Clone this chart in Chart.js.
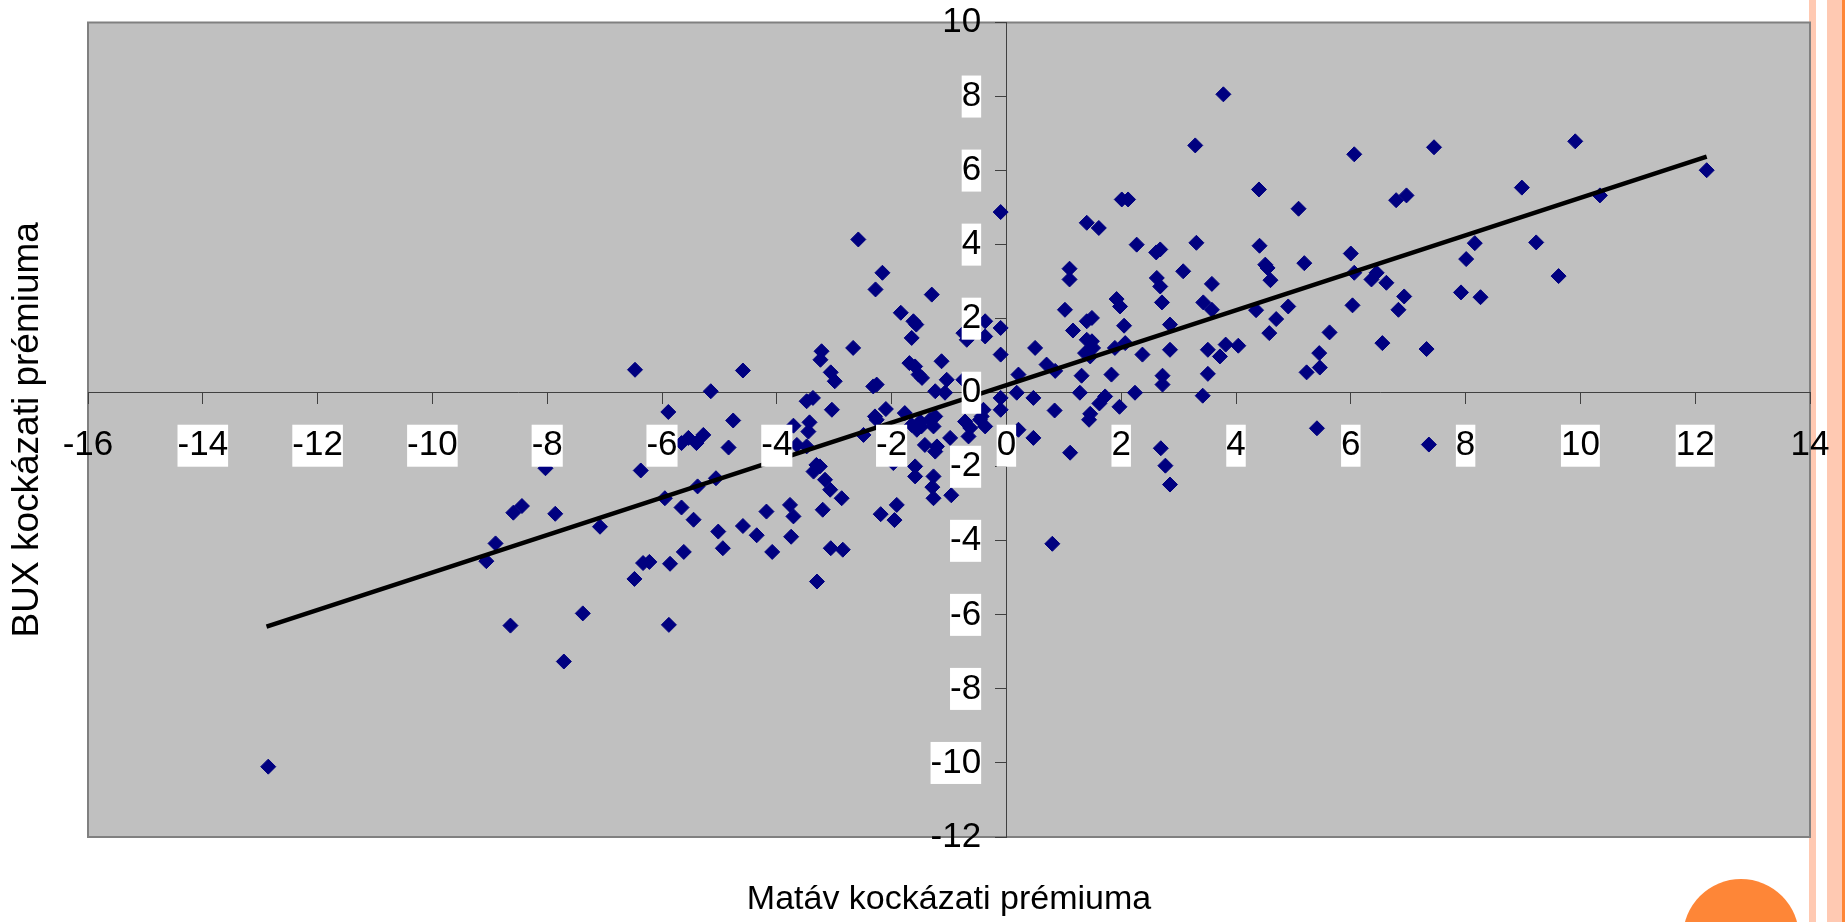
<!DOCTYPE html>
<html>
<head>
<meta charset="utf-8">
<title>Matáv - BUX kockázati prémium</title>
<script src="https://cdn.jsdelivr.net/npm/chart.js@4.4.1/dist/chart.umd.min.js"></script>
<style>
  html, body { margin: 0; padding: 0; background: #fff; }
  #page { position: relative; width: 1845px; height: 922px; overflow: hidden; }
  #wrap { position: absolute; left: 0; top: 0; width: 1845px; height: 922px; z-index: 2; }
  .stripe { position: absolute; top: 0; height: 922px; z-index: 1; }
  #dot { position: absolute; left: 1683px; top: 879px; width: 116px; height: 116px;
         border-radius: 50%; background: #fe8637; z-index: 3; }
</style>
</head>
<body>
<div id="page">
  <div class="stripe" style="left:1809px;width:7px;background:#ffc9b2"></div>
  <div class="stripe" style="left:1827px;width:15px;background:#ffc9b2"></div>
  <div class="stripe" style="left:1842px;width:3px;background:#fe8637"></div>
  <div id="wrap"><canvas id="chart"></canvas></div>
  <div id="dot"></div>
</div>
<script>
// Matáv risk premium (x) and BUX risk premium (y)
const matavX = [
  -12.86, -9.06, -8.90, -8.64, -8.59, -8.44, -8.03, -7.86, -7.71, -7.38,
  -7.08, -6.47, -6.48, -6.37, -6.33, -6.22, -5.95, -5.89, -5.88, -5.86,
  -5.66, -5.62, -5.45, -5.66, -5.54, -5.40, -5.28, -5.38, -5.15, -5.06,
  -5.02, -4.94, -4.84, -4.76, -4.59, -4.59, -4.35, -4.18, -4.08, -3.77,
  -3.75, -3.71, -3.71, -3.65, -3.48, -3.48, -3.37, -3.43, -3.45, -3.22,
  -3.24, -3.06, -2.99, -3.04, -3.31, -3.36, -3.25, -3.16, -3.07, -2.87,
  -3.20, -3.06, -2.85, -3.30, -2.67, -2.58, -2.16, -2.28, -2.32, -2.26,
  -2.29, -2.26, -2.49, -2.10, -1.30, -1.84, -1.62, -1.57, -1.65, -1.69,
  -1.59, -1.53, -1.47, -1.13, -1.04, -0.75, -0.69, -0.75, -0.37, -0.37,
  -0.10, -0.10, -0.10, 0.50, 0.70, -1.24, -1.07, -0.10, 0.21, 0.18,
  0.47, -1.77, -1.65, -1.56, -1.50, -1.48, -1.33, -1.24, -1.27, -0.72,
  -0.63, -0.98, -0.66, -0.40, -0.43, -0.46, -0.37, -0.10, 0.21, 0.47,
  -1.42, -1.21, -1.24, -1.97, -1.59, -1.59, -1.27, -2.19, -1.91, -1.95,
  -1.29, -1.27, -0.96,
  0.80, 0.85, 0.84, 1.11, 1.44, 1.46, 1.62, 1.97, 2.69, 2.77,
  2.85, 5.41, 7.36, 3.42, 1.28, 1.72, 2.24, 1.31, 1.83, 2.72,
  2.72, 3.51, 1.10, 1.10, 3.08, 2.62, 2.68, 3.58, 1.92, 1.98,
  2.71, 1.02, 3.43, 3.58, 1.40, 1.49, 1.16, 2.05, 2.85, 1.40,
  1.49, 1.51, 1.37, 1.46, 1.89, 2.07, 2.37, 2.85, 3.51, 3.72,
  3.82, 4.04, 3.78, 3.29, 4.40, 2.01, 2.12, 1.40, 1.61, 2.27,
  2.61, 2.68, 3.31, 4.41, 6.06, 7.45, 5.09, 6.79, 6.97, 6.00,
  4.51, 4.55, 4.60, 5.19, 6.06, 6.36, 6.45, 6.62, 6.93, 6.83,
  7.92, 8.01, 4.35, 4.70, 4.91, 6.03, 4.58, 5.63, 5.45, 5.46,
  5.23, 6.55, 7.32, 8.16, 8.26, 8.98, 9.23, 9.62, 9.91, 10.34,
  12.20
];
const buxY = [
  -10.10, -4.55, -4.07, -6.29, -3.24, -3.06, -2.04, -3.27, -7.26, -5.96,
  -3.62, 0.62, -5.03, -2.10, -4.60, -4.57, -2.85, -0.52, -6.27, -4.62,
  -3.10, -4.30, -3.43, -1.36, -1.22, -1.36, -1.14, -2.53, 0.04, -2.31,
  -3.75, -4.20, -1.48, -0.75, 0.60, -3.60, -3.85, -3.21, -4.30, -3.03,
  -3.89, -3.34, -0.89, -1.41, -1.45, -0.23, -0.14, -0.80, -1.05, 1.12,
  0.89, 0.55, 0.31, -0.46, -1.95, -2.13, -1.99, -2.35, -2.62, -2.85,
  -3.16, -4.20, -4.24, -5.10, 1.21, 4.14, 3.24, 2.79, 0.17, 0.22,
  -0.64, -0.73, -1.14, -0.44, 2.65, 2.16, 1.93, 1.84, 1.48, 0.80,
  0.71, 0.49, 0.40, 0.85, 0.35, 0.35, 1.43, 1.61, 1.93, 1.52,
  1.75, 1.03, 4.88, 1.21, 0.76, 0.04, 0.00, -0.14, 0.49, 0.00,
  -0.14, -0.55, -0.87, -1.00, -0.78, -0.91, -0.73, -0.64, -0.91, -0.78,
  -0.95, -1.22, -1.18, -0.46, -0.64, -0.73, -0.91, -0.46, -1.00, -1.22,
  -1.41, -1.45, -1.59, -1.90, -1.99, -2.26, -2.26, -3.28, -3.03, -3.44,
  -2.55, -2.85, -2.77,
  -4.08, 0.59, -0.48, -1.62, -0.73, -0.57, -0.29, -0.38, -1.50, -1.97,
  -2.48, -0.96, -1.40, -0.08, 0.00, -0.10, 0.00, 0.46, 0.49, 0.46,
  0.22, 0.51, 3.35, 3.06, 3.28, 3.10, 2.87, 2.94, 2.53, 2.33,
  2.44, 2.24, 2.44, 2.24, 1.93, 2.02, 1.68, 1.81, 1.84, 1.43,
  1.39, 1.21, 1.07, 0.98, 1.21, 1.34, 1.03, 1.16, 1.16, 0.98,
  1.30, 1.27, 8.06, 6.68, 5.49, 5.22, 5.22, 4.59, 4.45, 4.00,
  3.79, 3.87, 4.05, 3.97, 6.44, 6.63, 4.97, 5.20, 5.33, 3.76,
  3.46, 3.37, 3.04, 3.50, 3.24, 3.06, 3.24, 2.97, 2.60, 2.24,
  2.71, 3.61, 2.23, 1.99, 2.33, 2.36, 1.61, 1.63, 1.07, 0.68,
  0.55, 1.34, 1.18, 4.04, 2.58, 5.54, 4.06, 3.15, 6.79, 5.33,
  6.01
];

// fitted trend line, end points as drawn
const trendX = [-12.89, 12.2];
const trendY = [-6.32, 6.38];

// axis ranges / tick step
const xTicks = { min: -16, max: 14, step: 2 };
const yTicks = { min: -12, max: 10, step: 2 };

const points = matavX.map((x, i) => ({ x: x, y: buxY[i] }));
const trend = trendX.map((x, i) => ({ x: x, y: trendY[i] }));

const plotBg = {
    id: 'plotBg',
    beforeDraw(chart) {
        const { ctx, chartArea: a } = chart;
        ctx.save();
        ctx.fillStyle = '#c0c0c0';
        ctx.fillRect(a.left, a.top, a.right - a.left, a.bottom - a.top);
        ctx.strokeStyle = '#808080';
        ctx.lineWidth = 2;
        ctx.strokeRect(a.left, a.top, a.right - a.left, a.bottom - a.top);
        ctx.restore();
    }
};

const fam = "'Liberation Sans', Arial, sans-serif";
const tickFont = { family: fam, size: 35 };

// axis line + tick marks, no labels (labels sit on their own axes below)
function axisLine(pos, t) {
    return {
        type: 'linear', position: pos, min: t.min, max: t.max,
        grid: { drawOnChartArea: false, drawTicks: true, tickLength: 11, color: '#404040' },
        border: { display: true, color: '#404040', width: 1 },
        ticks: { stepSize: t.step, autoSkip: false, display: false }
    };
}
// tick labels only, placed a bit off the axis line; end labels have no white box
function axisLabels(pos, t) {
    return {
        type: 'linear', position: pos, min: t.min, max: t.max,
        grid: { display: false, drawTicks: false },
        border: { display: false },
        ticks: {
            stepSize: t.step, autoSkip: false, maxRotation: 0,
            font: tickFont, color: '#000', padding: 0, z: 1,
            showLabelBackdrop: (c) => !(c.tick && (c.tick.value === t.min || c.tick.value === t.max)),
            backdropColor: '#ffffff', backdropPadding: 0
        }
    };
}
function titleAxis(pos, text, size, pad) {
    return {
        type: 'linear', position: pos, min: 0, max: 1,
        grid: { display: false, drawTicks: false },
        border: { display: false },
        ticks: { display: false },
        title: { display: true, text: text, color: '#000', font: { family: fam, size: size }, padding: pad }
    };
}

new Chart(document.getElementById('chart'), {
    type: 'scatter',
    data: {
        datasets: [{
            type: 'line',
            data: trend,
            borderColor: '#000000',
            borderWidth: 4.5,
            pointRadius: 0,
            fill: false,
            order: 0
        }, {
            data: points,
            pointStyle: 'rectRot',
            pointRadius: 7.5,
            borderWidth: 1,
            backgroundColor: '#000080',
            borderColor: '#000080',
            order: 1
        }]
    },
    options: {
        responsive: true,
        maintainAspectRatio: false,
        animation: false,
        events: [],
        layout: { padding: { top: 22.5, right: 35, left: 0, bottom: 0 } },
        plugins: { legend: { display: false }, tooltip: { enabled: false } },
        scales: {
            x: axisLine({ y: 0 }, xTicks),
            y: axisLine({ x: 0 }, yTicks),
            xLab: axisLabels({ y: -0.864 }, xTicks),
            yLab: axisLabels({ x: -0.44 }, yTicks),
            xTitle: titleAxis('bottom', 'Matáv kockázati prémiuma', 34, { top: 42.6, bottom: 1.6 }),
            yTitle: titleAxis('left', 'BUX kockázati prémiuma', 37, { top: 6, bottom: 37.6 })
        }
    },
    plugins: [plotBg]
});
</script>
</body>
</html>
